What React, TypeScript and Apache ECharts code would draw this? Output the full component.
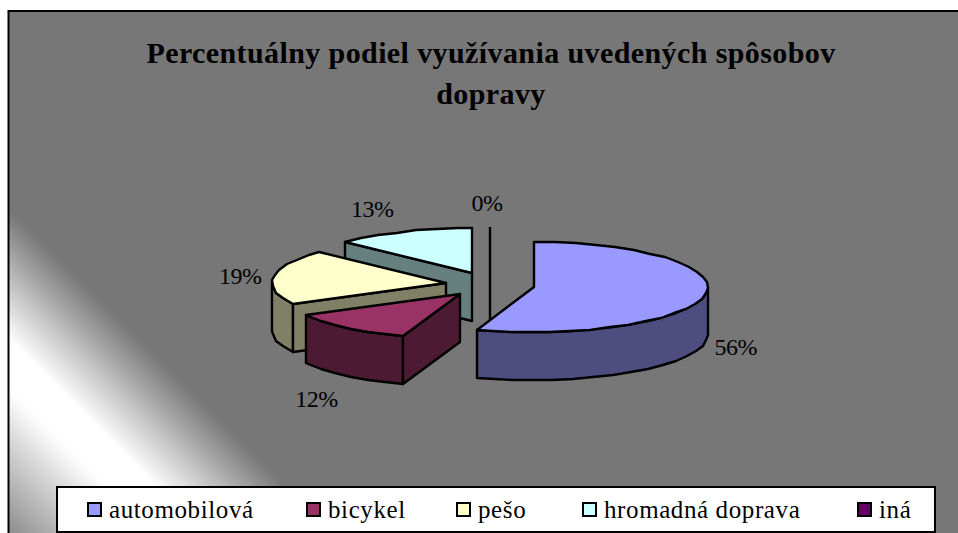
import React, { useEffect, useRef } from "react";
import * as echarts from "echarts";

const titleText = "Percentuálny podiel využívania uvedených spôsobov\ndopravy";
const categories = ["automobilová", "bicykel", "pešo", "hromadná doprava", "iná"];
const percentValues = [56, 12, 19, 13, 0];
const topColors = ["#9999FF", "#993366", "#FFFFCC", "#CCFFFF", "#660066"];
const sideColors = ["#4D4D80", "#4D1A33", "#808066", "#668080", "#330033"];
const drawOrder = [4, 3, 2, 1, 0];
const labelNudges = [[31, 52], [-24, 72], [-34, 0], [-31, -23], [-3, -24]];
const legendLefts = [87, 306, 456, 582, 857];

const FONT = '"Liberation Serif", "Times New Roman", serif';
const LEGEND_SPACING = 0.6;
const PIE = { cx: 490, cy: 284.6, rx: 174, ry: 45, depth: 48, explodeX: 44.5, explodeY: 12.6 };
const STEP = 7;
const rad = (d: number) => (d * Math.PI) / 180;

const total = percentValues.reduce((a, b) => a + b, 0);
const startAngles = percentValues.map((_, i) =>
  (percentValues.slice(0, i).reduce((a, b) => a + b, 0) / total) * 360
);

// the source picture's projection pulls the front-left quarter slightly towards the front
const warp = (a: number) =>
  a > 180 && a < 270 ? a - 4 * Math.sin(rad(2 * (a - 180))) : a;

function renderSlice(index: number, value: number) {
  const a0 = startAngles[index];
  const a1 = a0 + (value / total) * 360;
  const mid = (a0 + a1) / 2;
  const cx = PIE.cx + PIE.explodeX * Math.sin(rad(mid));
  const cy = PIE.cy - PIE.explodeY * Math.cos(rad(mid));
  const pt = (a: number, dz = 0): number[] => [
    Math.round(cx + PIE.rx * Math.sin(rad(warp(a)))),
    Math.round(cy - PIE.ry * Math.cos(rad(warp(a)))) + dz,
  ];
  const arc = (from: number, to: number, dz = 0) => {
    const out: number[][] = [];
    for (let a = from; a < to; a += STEP) out.push(pt(a, dz));
    out.push(pt(to, dz));
    return out;
  };
  const c = [Math.round(cx), Math.round(cy)];
  const stroke = { stroke: "#000", lineWidth: 2.4, lineJoin: "round" };
  const children: any[] = [];
  const rimFrom = Math.max(a0, 90);
  const rimTo = Math.min(a1, 270);
  if (rimTo > rimFrom) {
    children.push({
      type: "polygon",
      shape: { points: [...arc(rimFrom, rimTo), ...arc(rimFrom, rimTo, PIE.depth).reverse()] },
      style: { fill: sideColors[index], ...stroke },
    });
  }
  if (value > 0 && Math.sin(rad(a0)) < -1e-6) {
    children.push({
      type: "polygon",
      shape: { points: [c, pt(a0), pt(a0, PIE.depth), [c[0], c[1] + PIE.depth]] },
      style: { fill: sideColors[index], ...stroke },
    });
  }
  if (value > 0 && Math.sin(rad(a1)) > 1e-6) {
    children.push({
      type: "polygon",
      shape: { points: [c, pt(a1), pt(a1, PIE.depth), [c[0], c[1] + PIE.depth]] },
      style: { fill: sideColors[index], ...stroke },
    });
  }
  if (value > 0) {
    children.push({
      type: "polygon",
      shape: { points: [c, ...arc(a0, a1)] },
      style: { fill: topColors[index], ...stroke },
    });
  } else {
    children.push({
      type: "polyline",
      shape: { points: [pt(a0), c, [c[0], c[1] + PIE.depth]] },
      style: { fill: "none", ...stroke },
    });
  }
  const nudge = labelNudges[index];
  children.push({
    type: "text",
    style: {
      text: `${value}%`,
      x: cx + PIE.rx * Math.sin(rad(mid)) + nudge[0],
      y: cy - PIE.ry * Math.cos(rad(mid)) + nudge[1],
      fill: "#000",
      fontSize: 24,
      fontFamily: FONT,
      textAlign: "center",
      textVerticalAlign: "middle",
    },
  });
  return { type: "group", children };
}

export default function App() {
  const ref = useRef<HTMLDivElement>(null);
  useEffect(() => {
    document.body.style.margin = "0";
    const chart = echarts.init(ref.current!, undefined, { renderer: "svg" });
    chart.setOption({
      animation: false,
      backgroundColor: "#fff",
      title: {
        text: titleText,
        left: 486,
        top: 27,
        textAlign: "center",
        textStyle: {
          fontFamily: FONT,
          fontWeight: "bold",
          fontSize: 30,
          lineHeight: 41,
          color: "#000",
        },
      },
      graphic: {
        elements: [
          {
            type: "rect",
            z: -10,
            silent: true,
            shape: { x: 8.5, y: 11, width: 970, height: 540 },
            style: {
              stroke: "#000",
              lineWidth: 2,
              fill: new echarts.graphic.LinearGradient(
                0, 200, -160, 360,
                [
                  { offset: 0, color: "#777777" },
                  { offset: 0.41, color: "#ffffff" },
                  { offset: 0.56, color: "#ffffff" },
                  { offset: 1, color: "#909090" },
                ],
                true
              ),
            },
          },
          {
            type: "rect",
            z: -9,
            silent: true,
            shape: { x: 57, y: 487, width: 878, height: 45 },
            style: { fill: "#fff", stroke: "#000", lineWidth: 2 },
          },
        ],
      },
      legend: categories.map((name, i) => ({
        left: legendLefts[i],
        top: 497,
        padding: 0,
        data: [name],
        selectedMode: false,
        itemWidth: 13,
        itemHeight: 13,
        icon: "rect",
        itemStyle: { borderColor: "#000", borderWidth: 2 },
        textStyle: {
          fontFamily: FONT,
          fontSize: 25,
          color: "#000",
          padding: [3, 0, 0, 3],
        },
      })),
      series: drawOrder.map((i) => ({
        type: "custom",
        name: categories[i],
        coordinateSystem: "none",
        silent: true,
        itemStyle: { color: topColors[i] },
        data: [[percentValues[i]]],
        renderItem: (_p: any, api: any) => renderSlice(i, api.value(0)),
      })),
    });
    return () => chart.dispose();
  }, []);
  return (
    <>
      <style>{`
        #pie-chart text[style*="bold"] { letter-spacing: 0.4px; }
        #pie-chart text[style*="25px"] { letter-spacing: ${LEGEND_SPACING}px; }
        #pie-chart text[style*="24px"] { letter-spacing: -0.5px; }
      `}</style>
      <div id="pie-chart" ref={ref} style={{ width: 958, height: 533, overflow: "hidden" }} />
    </>
  );
}
